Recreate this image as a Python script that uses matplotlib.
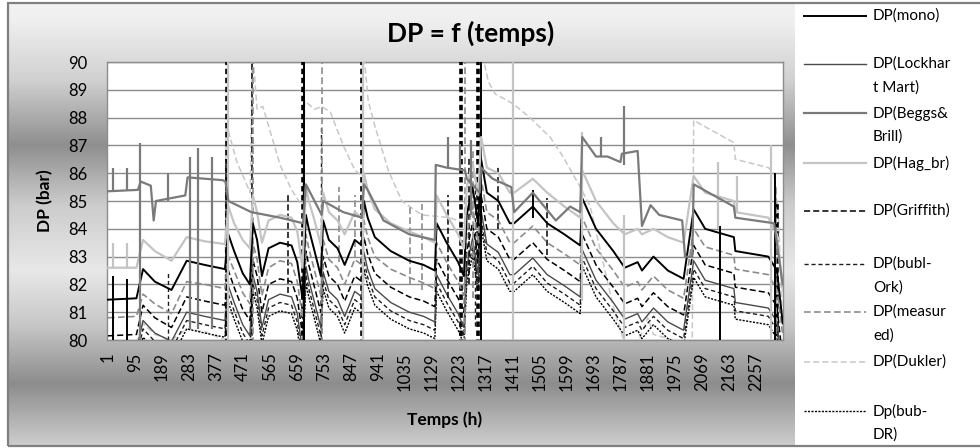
import numpy as np
import matplotlib
matplotlib.use("Agg")
import matplotlib.pyplot as plt
from matplotlib.lines import Line2D
from matplotlib.patches import Rectangle

plt.rcParams['font.family'] = ['Lato', 'DejaVu Sans']

# ---------------- data (hours, DP in bar) ----------------
hours_bundle = [1, 100, 123, 164, 222, 275, 338, 408, 420, 440, 470, 495,
                505, 520, 537, 560, 600, 640, 660, 678, 690, 700, 720, 742,
                750, 770, 800, 825, 860, 885, 892, 905, 930, 985, 1050, 1100,
                1139, 1145, 1180, 1220, 1240, 1250, 1270, 1290, 1300, 1320,
                1360, 1400, 1415, 1480, 1530, 1590, 1645, 1652, 1700, 1760,
                1800, 1845, 1860, 1900, 1950, 2005, 2040, 2080, 2180, 2185,
                2300, 2330, 2350]

dp_mono = [81.45, 81.5, 82.55, 82.1, 81.8, 82.85, 82.7, 82.55,
           83.8, 83.2, 82.4, 82.0,
           84.2, 83.6, 82.3, 83.3, 83.5, 83.4, 82.8, 81.5,
           84.5, 84.0, 83.2, 82.3,
           84.3, 83.6, 83.3, 82.7, 83.6, 83.4,
           85.0, 84.4, 83.7, 83.2, 82.85, 82.7, 82.5,
           84.2, 83.5, 82.8, 82.3,
           84.5, 85.5, 84.2,
           86.5, 85.3, 85.0, 84.2,
           84.2, 84.8, 84.2, 83.8, 83.4,
           85.1, 84.0, 83.2, 82.6, 82.8,
           82.5, 83.0, 82.5, 82.2,
           84.7, 84.0, 83.7, 83.2, 83.0, 82.5, 80.6]

dp_hag_br = [82.6, 82.6, 83.6, 83.2, 82.85, 83.7, 83.55, 83.45,
             84.8, 84.2, 83.6, 83.3,
             85.2, 84.6, 83.5, 84.3, 84.5, 84.4, 83.9, 82.6,
             85.5, 85.0, 84.3, 83.4,
             85.3, 84.6, 84.3, 83.8, 84.6, 84.4,
             86.0, 85.4, 84.7, 84.2, 83.9, 83.7, 83.5,
             85.2, 84.5, 83.8, 83.3,
             85.5, 86.4, 85.2,
             87.3, 86.2, 86.0, 85.3,
             85.3, 85.8, 85.3, 84.8, 84.4,
             86.1, 85.0, 84.2, 83.8, 84.0,
             83.8, 84.0, 83.7, 83.5,
             85.9, 85.3, 85.0, 84.6, 84.4, 83.8, 81.8]

dp_measured = [80.8, 80.85, 81.65, 81.3, 80.95, 82.1, 82.0, 81.85,
               83.0, 82.5, 81.7, 81.3,
               83.5, 82.9, 81.6, 82.6, 82.85, 82.75, 82.1, 80.8,
               83.8, 83.3, 82.5, 81.6,
               83.6, 82.9, 82.6, 82.0, 82.9, 82.7,
               84.3, 83.7, 83.0, 82.55, 82.25, 82.05, 81.85,
               83.5, 82.8, 82.1, 81.6,
               83.8, 84.8, 83.5,
               85.8, 84.6, 84.3, 83.5,
               83.5, 84.1, 83.5, 83.1, 82.7,
               84.4, 83.3, 82.5, 81.9, 82.1,
               81.8, 82.3, 81.8, 81.5,
               84.0, 83.35, 83.05, 82.55, 82.35, 81.8, 80.2]

dp_griffith = [80.15, 80.2, 81.25, 80.8, 80.45, 81.55, 81.4, 81.25,
               82.5, 81.9, 81.1, 80.7,
               82.9, 82.3, 81.0, 82.0, 82.2, 82.1, 81.5, 80.2,
               83.2, 82.7, 81.9, 81.0,
               83.0, 82.3, 82.0, 81.4, 82.3, 82.1,
               83.7, 83.1, 82.4, 81.9, 81.55, 81.4, 81.2,
               82.9, 82.2, 81.5, 81.0,
               83.2, 84.2, 82.9,
               85.2, 84.0, 83.7, 82.9,
               82.9, 83.5, 82.9, 82.5, 82.1,
               83.8, 82.7, 81.9, 81.3, 81.5,
               81.2, 81.7, 81.2, 80.9,
               83.4, 82.7, 82.4, 81.9, 81.7, 81.2, 79.3]

dp_lockhart = [79.6, 79.65, 80.7, 80.25, 79.95, 81.0, 80.85, 80.7,
               81.95, 81.35, 80.55, 80.15,
               82.35, 81.75, 80.45, 81.45, 81.65, 81.55, 80.95, 79.65,
               82.65, 82.15, 81.35, 80.45,
               82.45, 81.75, 81.45, 80.85, 81.75, 81.55,
               83.15, 82.55, 81.85, 81.35, 81.0, 80.85, 80.65,
               82.35, 81.65, 80.95, 80.45,
               82.65, 83.65, 82.35,
               84.65, 83.45, 83.15, 82.35,
               82.35, 82.95, 82.35, 81.95, 81.55,
               83.25, 82.15, 81.35, 80.75, 80.95,
               80.65, 81.15, 80.65, 80.35,
               82.85, 82.15, 81.85, 81.35, 81.15, 80.65, 78.75]

dp_bubl_ork = [79.3, 79.35, 80.4, 79.95, 79.65, 80.7, 80.55, 80.4,
               81.65, 81.05, 80.25, 79.85,
               82.05, 81.45, 80.15, 81.15, 81.35, 81.25, 80.65, 79.35,
               82.35, 81.85, 81.05, 80.15,
               82.15, 81.45, 81.15, 80.55, 81.45, 81.25,
               82.85, 82.25, 81.55, 81.05, 80.7, 80.55, 80.35,
               82.05, 81.35, 80.65, 80.15,
               82.35, 83.35, 82.05,
               84.35, 83.15, 82.85, 82.05,
               82.05, 82.65, 82.05, 81.65, 81.25,
               82.95, 81.85, 81.05, 80.45, 80.65,
               80.35, 80.85, 80.35, 80.05,
               82.55, 81.85, 81.55, 81.05, 80.85, 80.35, 78.45]

dp_bub_dr = [79.0, 79.05, 80.1, 79.65, 79.35, 80.4, 80.25, 80.1,
             81.35, 80.75, 79.95, 79.55,
             81.75, 81.15, 79.85, 80.85, 81.05, 80.95, 80.35, 79.05,
             82.05, 81.55, 80.75, 79.85,
             81.85, 81.15, 80.85, 80.25, 81.15, 80.95,
             82.55, 81.95, 81.25, 80.75, 80.4, 80.25, 80.05,
             81.75, 81.05, 80.35, 79.85,
             82.05, 83.05, 81.75,
             84.05, 82.85, 82.55, 81.75,
             81.75, 82.35, 81.75, 81.35, 80.95,
             82.65, 81.55, 80.75, 80.15, 80.35,
             80.05, 80.55, 80.05, 79.75,
             82.25, 81.55, 81.25, 80.75, 80.55, 80.05, 78.15]

beggs_hours = [1, 105, 115, 150, 160, 168, 270, 278, 400, 410, 420, 500, 600,
               680, 690, 745, 750, 820, 885, 892, 905, 960, 1050, 1139, 1142,
               1180, 1244, 1250, 1295, 1300, 1340, 1405, 1415, 1480, 1560,
               1610, 1645, 1652, 1700, 1740, 1785, 1790, 1845, 1860, 1890,
               1920, 2000, 2010, 2035, 2040, 2180, 2185, 2320, 2350]
dp_beggs = [85.35, 85.4, 85.7, 85.55, 84.3, 85.0, 85.2, 85.85, 85.75, 85.7,
            85.0, 84.6, 84.4, 84.2, 85.6, 84.5, 85.0, 84.6, 84.4, 85.6, 85.4,
            84.3, 83.8, 83.6, 86.3, 86.2, 86.1, 85.8, 85.3, 86.2, 85.8, 85.5,
            84.6, 85.3, 84.3, 84.8, 84.6, 87.3, 86.6, 86.6, 86.4, 86.7, 86.8,
            84.1, 84.85, 84.5, 84.3, 83.0, 83.0, 85.6, 84.8, 84.4, 84.2, 82.0]

dukler_hours = [1, 100, 123, 164, 222, 275, 338, 408, 412, 450, 496, 504, 520,
                540, 600, 640, 678, 686, 720, 745, 775, 820, 861, 886, 890,
                907, 930, 977, 1024, 1093, 1192, 1240, 1296, 1300, 1325, 1349,
                1411, 1470, 1540, 1585, 1645, 1680, 1720, 1760, 1790, 1800,
                1850, 1880, 1900, 2005, 2035, 2040, 2180, 2185, 2300, 2320,
                2335, 2350]
dp_dukler = [79.9, 79.9, 80.6, 80.2, 80.0, 80.4, 80.3, 80.0, 87.8, 86.4, 85.3,
             90.5, 88.3, 88.4, 86.3, 85.4, 84.8, 88.6, 88.3, 88.4, 88.2, 87.0,
             86.1, 85.9, 90.5, 88.6, 87.7, 86.1, 85.0, 84.5, 84.4, 84.2, 84.0,
             90.5, 89.3, 88.85, 88.5, 88.0, 87.3, 86.6, 85.5, 84.8, 83.0, 81.2,
             80.2, 79.9, 80.0, 80.8, 80.2, 79.9, 80.0, 87.9, 87.1, 86.5, 86.2,
             86.0, 84.5, 80.5]

# short excursions (hour, from, to, series)
spike_hours = [20, 66, 112, 211, 285, 315, 362, 1185, 1225, 1265, 1718, 1798,
               20, 66, 418, 889, 1410, 1650, 1798, 2126, 2190, 2310,
               20, 66, 684, 890, 1299, 1481, 2132, 2322,
               112, 413, 503, 628, 1186, 1258, 1360, 1411, 1528,
               211, 744, 1280,
               505, 745, 805, 861, 1051, 1093, 1244, 1270, 2325,
               415, 680, 885, 1230, 1290, 2330]
spike_low = [85.4, 85.4, 80.0, 85.0, 80.4, 80.4, 80.4, 86.2, 86.1, 84.5, 86.6, 86.3,
             82.6, 82.6, 79.5, 79.5, 79.5, 81.4, 79.5, 84.0, 84.6, 79.5,
             79.5, 79.5, 79.5, 79.5, 79.5, 84.4, 79.5, 79.5,
             79.5, 79.5, 79.5, 81.7, 81.5, 82.0, 84.0, 79.5, 83.05,
             79.5, 79.5, 80.5,
             79.5, 79.5, 82.8, 83.0, 82.0, 81.8, 79.5, 81.5, 79.5,
             79.5, 79.5, 79.5, 79.5, 79.5, 79.5]
spike_high = [86.2, 86.2, 87.1, 86.0, 86.6, 86.9, 86.6, 87.3, 87.05, 87.2, 87.3, 88.4,
              83.5, 83.5, 90.5, 90.5, 90.5, 87.5, 84.5, 86.4, 85.9, 87.0,
              82.3, 82.2, 90.5, 87.0, 90.5, 85.4, 84.1, 86.0,
              83.6, 86.5, 90.5, 85.3, 85.2, 86.5, 86.3, 84.3, 85.1,
              82.5, 87.7, 86.0,
              90.5, 90.5, 85.5, 85.2, 84.8, 84.9, 90.5, 86.9, 85.5,
              90.5, 90.5, 90.5, 90.5, 90.5, 85.0]
spike_series = (['beggs'] * 12 + ['hag_br'] * 10 + ['mono'] * 8 + ['griffith'] * 9
                + ['bubl_ork'] * 3 + ['measured'] * 9 + ['bub_dr'] * 6)

xtick_vals = list(range(1, 2258, 94))

# ---------------- styles ----------------
series = [
    # key, label, hours, values, color, linestyle, lw
    ('dukler', 'DP(Dukler)', dukler_hours, dp_dukler, '#c8c8c8', (0, (4, 2)), 1.1),
    ('bub_dr', 'Dp(bub-\nDR)', hours_bundle, dp_bub_dr, '#000000', (0, (1.5, 1)), 1.0),
    ('bubl_ork', 'DP(bubl-\nOrk)', hours_bundle, dp_bubl_ork, '#1e1e1e', (0, (3, 2)), 1.0),
    ('lockhart', 'DP(Lockhar\nt Mart)', hours_bundle, dp_lockhart, '#4a4a4a', '-', 1.0),
    ('griffith', 'DP(Griffith)', hours_bundle, dp_griffith, '#000000', (0, (4, 2)), 1.1),
    ('measured', 'DP(measur\ned)', hours_bundle, dp_measured, '#8c8c8c', (0, (4, 2)), 1.2),
    ('mono', 'DP(mono)', hours_bundle, dp_mono, '#000000', '-', 1.4),
    ('hag_br', 'DP(Hag_br)', hours_bundle, dp_hag_br, '#c4c4c4', '-', 1.6),
    ('beggs', 'DP(Beggs&\nBrill)', beggs_hours, dp_beggs, '#7a7a7a', '-', 1.6),
]

W, H = 980, 448
fig = plt.figure(figsize=(W / 100, H / 100), dpi=100, facecolor='white')

# chart-area gradient
stops_y = [0, 20, 80, 145, 205, 270, 325, 383, 448]
stops_g = [0.95, 0.94, 0.82, 0.56, 0.80, 0.91, 0.78, 0.55, 0.82]
yy = np.arange(448)
grad = np.interp(yy, stops_y, stops_g)[:, None] * np.ones((1, 2))
bg = fig.add_axes([8 / W, 1 - 447 / H, (795 - 8) / W, (447 - 3) / H], zorder=-5)
bg.imshow(np.dstack([grad] * 3)[3:447], aspect='auto', extent=[0, 1, 0, 1])
bg.axis('off')
fig.add_artist(Rectangle((8 / W, 1 - 446 / H), 1.0, 443 / H, transform=fig.transFigure,
                         fill=False, edgecolor='#808080', lw=1.6))

ax = fig.add_axes([107 / W, 1 - 340 / H, (783 - 107) / W, (340 - 62) / H])
ax.set_facecolor('white')

for key, label, hx, vy, col, ls, lw in series:
    ax.plot(hx, vy, color=col, linestyle=ls, linewidth=lw, zorder=3)
    idx = [i for i, s in enumerate(spike_series) if s == key]
    if idx:
        slw = 2.6 if key == 'bub_dr' else lw
        ax.vlines([spike_hours[i] for i in idx], [spike_low[i] for i in idx],
                  [spike_high[i] for i in idx], colors=col, linestyles=ls,
                  linewidths=slw, zorder=3)

ax.set_xlim(-2.5, 2351)
ax.set_ylim(80, 90)
ax.set_yticks(range(80, 91))
ax.set_xticks(xtick_vals)
ax.set_xticklabels([str(v) for v in xtick_vals], rotation=90, fontsize=12)
ax.tick_params(axis='y', length=0, pad=14, labelsize=12)
ax.tick_params(axis='x', length=0, pad=9)
ax.grid(axis='y', color='#8c8c8c', linewidth=1.0, zorder=1)
ax.set_axisbelow(True)
for sp in ax.spines.values():
    sp.set_color('#8c8c8c')
    sp.set_linewidth(1.0)

fig.text(471 / W, 1 - 33 / H, 'DP = f (temps)', ha='center', va='center',
         fontsize=19, fontweight='bold')
fig.text(45 / W, 1 - 201 / H, 'DP (bar)', ha='center', va='center', rotation=90,
         fontsize=12.5, fontweight='bold')
fig.text(445 / W, 1 - 420 / H, 'Temps (h)', ha='center', va='center',
         fontsize=12.5, fontweight='bold')

# legend drawn at the right, as in the spreadsheet export
legend_order = ['mono', 'lockhart', 'beggs', 'hag_br', 'griffith', 'bubl_ork',
                'measured', 'dukler', 'bub_dr']
legend_y = [16, 64, 113, 163, 211, 264, 312, 362, 411]
styles = {s[0]: s for s in series}
for key, ly in zip(legend_order, legend_y):
    _, label, _, _, col, ls, lw = styles[key]
    fig.add_artist(Line2D([804 / W, 866 / W], [1 - ly / H] * 2, transform=fig.transFigure,
                          color=col, linestyle=ls, linewidth=lw))
    for j, part in enumerate(label.split('\n')):
        fig.text(873 / W, 1 - (ly + 24 * j) / H, part, ha='left', va='center', fontsize=11)

fig.savefig('out.png', dpi=100, facecolor='white')
